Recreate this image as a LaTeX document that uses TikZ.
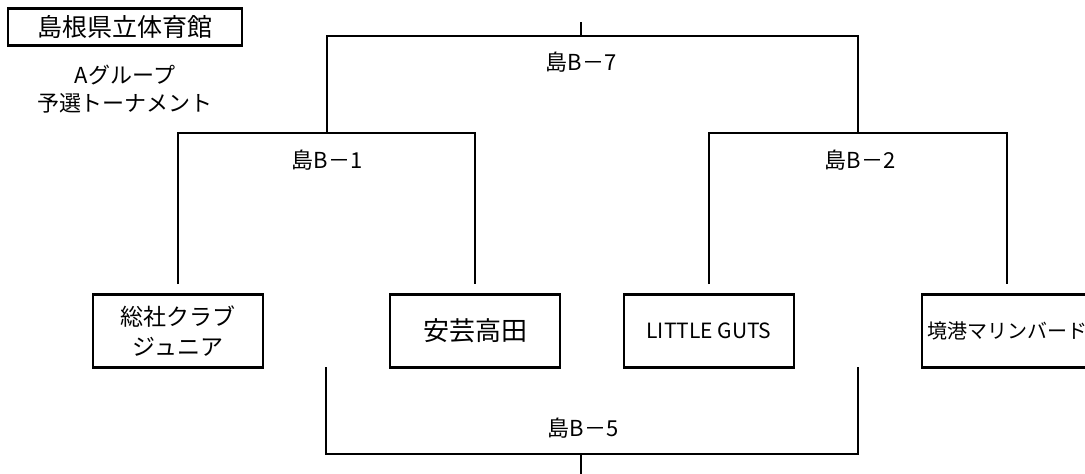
\documentclass[tikz,border=0pt]{standalone}
\usepackage{fontspec}
\setmainfont{Noto Sans CJK JP}
\usepackage{tikz}

\begin{document}
\begin{tikzpicture}[x=1pt, y=-1pt, line width=2.8pt]
    \tikzstyle{team} = [rectangle, draw, line width=2.8pt, minimum width=170pt,
                                      minimum height=73pt, align=center, inner sep=0pt,
                                      font=\fontsize{23}{30}\selectfont]
    \tikzstyle{match} = [inner sep=0pt, font=\fontsize{22}{26}\selectfont]
    \tikzstyle{wire} = [shorten <=9pt, shorten >=9pt]
  \clip (0,0) rectangle (1085,474);
  % venue and group
  \node[rectangle, draw, line width=2.8pt, minimum width=234pt, minimum height=37pt,
        inner sep=0pt, font=\fontsize{25}{28}\selectfont](venue) at (125,27){島根県立体育館};
  \node[align=center, inner sep=0pt, font=\fontsize{22}{28}\selectfont](group) at (125,89){Aグループ\\予選トーナメント};
  % teams
  \node[team](sosha) at (178,331){総社クラブ\\ジュニア};
  \node[team, font=\fontsize{26}{30}\selectfont](aki) at (475,331){安芸高田};
  \node[team, font=\fontsize{21}{26}\selectfont](little) at (709,331){LITTLE GUTS};
  \node[team, font=\fontsize{20}{26}\selectfont](sakai) at (1007,331){境港マリンバード};
  % matches
  \node[match](m7) at (581,62){島B－7};
  \node[match](m1) at (327,160){島B－1};
  \node[match](m2) at (860,160){島B－2};
  \node[match](m5) at (583,428){島B－5};
  \coordinate (t7) at (581,22);
  \coordinate (j7) at (581,36);
  \coordinate (j1) at (327,133);
  \coordinate (j2) at (858,133);
  \coordinate (u1) at (326,367);
  \coordinate (u2) at (858,367);
  \coordinate (j5) at (581,454);
  \coordinate (t5) at (581,474);
  \draw[wire] (sosha.north) |- (j1) -| (aki.north);
  \draw[wire] (little.north) |- (j2) -| (sakai.north);
  \draw (j1) |- (j7) -| (j2);
  \draw (j7) -- (t7);
  \draw (u1) |- (j5) -| (u2);
  \draw (j5) -- (t5);
\end{tikzpicture}
\end{document}
